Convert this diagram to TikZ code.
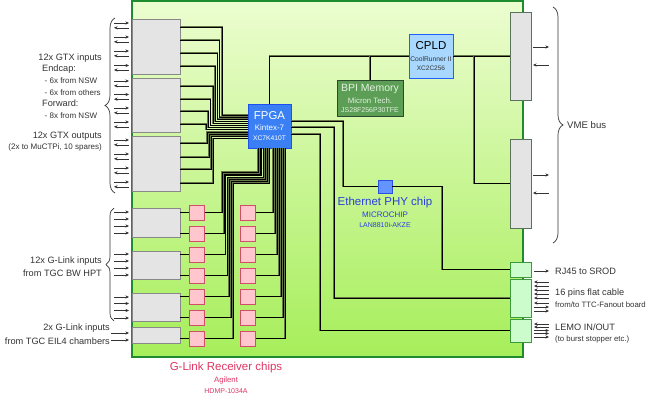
\documentclass[tikz,border=0pt]{standalone}
\usepackage{fontspec}
\setmainfont{Liberation Sans}
\usetikzlibrary{arrows.meta,calc,decorations.pathreplacing}
\definecolor{boardtop}{HTML}{ECFDD0}
\definecolor{boardbot}{HTML}{A6EE5A}
\definecolor{boardline}{HTML}{1E8C2E}
\definecolor{grayfill}{HTML}{E4E4E4}
\definecolor{grayline}{HTML}{888888}
\definecolor{vmeline}{HTML}{5A735A}
\definecolor{pinkfill}{HTML}{FFC6CE}
\definecolor{pinkline}{HTML}{D24E68}
\definecolor{fpgafill}{HTML}{3A80F4}
\definecolor{fpgaline}{HTML}{1E50F0}
\definecolor{cpldfill}{HTML}{A8D8FF}
\definecolor{cpldline}{HTML}{2060FF}
\definecolor{bpifill}{HTML}{5C9E56}
\definecolor{bpiline}{HTML}{2C4A2C}
\definecolor{bpitext}{HTML}{E2F2DE}
\definecolor{ethfill}{HTML}{6494FF}
\definecolor{ethline}{HTML}{2850E6}
\definecolor{ethtext}{HTML}{2A3EE0}
\definecolor{rxtext}{HTML}{DE3462}
\definecolor{connfill}{HTML}{CCFCCC}
\definecolor{connline}{HTML}{3C9A3C}
\definecolor{wireedge}{HTML}{66774A}
\definecolor{labeltext}{HTML}{333333}
\newcommand\fsz[1]{\fontsize{#1}{#1}\selectfont}
\begin{document}
\begin{tikzpicture}[x=1pt,y=-1pt,
  >={Stealth[length=3.6pt,width=3.2pt]},
  blk/.style={anchor=north west, inner sep=0, outer sep=0},
  gbox/.style={blk, draw=grayline, fill=grayfill, line width=1pt},
  vbox/.style={blk, draw=vmeline, fill=grayfill, line width=1pt},
  cbox/.style={blk, draw=connline, fill=connfill, line width=1pt},
  pinkbox/.style={draw=pinkline, fill=pinkfill, line width=0.9pt, minimum size=15pt, inner sep=0},
  wire/.style={draw=wireedge, line width=0.5pt, double=black, double distance=0.5pt},
  sig/.style={draw=labeltext, line width=0.6pt},
  txt/.style={inner sep=0, text=labeltext},
  bracestyle/.style={draw=labeltext, line width=0.7pt, decorate}
]
\useasboundingbox (0,0) rectangle (649,402);
% board
\node[blk, draw=boardline, line width=1.6pt, top color=boardtop, bottom color=boardbot,
      minimum width=391pt, minimum height=356pt] (board) at (132,1) {};
% GTX boxes
\node[gbox, minimum width=48pt, minimum height=55pt] (gtx1) at (132,19) {};
\node[gbox, minimum width=48pt, minimum height=54pt] (gtx2) at (132,78) {};
\node[gbox, minimum width=48pt, minimum height=55pt] (gtx3) at (132,136) {};
% G-Link boxes
\node[gbox, minimum width=48pt, minimum height=29pt] (gl1) at (132,208) {};
\node[gbox, minimum width=48pt, minimum height=28pt] (gl2) at (132,251) {};
\node[gbox, minimum width=48pt, minimum height=28pt] (gl3) at (132,293) {};
\node[gbox, minimum width=48pt, minimum height=16pt] (gl4) at (132,327) {};
% pink receivers
\foreach \yy [count=\k from 0] in {212.5,233.5,254.5,275.5,296.5,317.5,338.5} {
  \node[pinkbox] (pa\k) at (197,\yy) {};
  \node[pinkbox] (pb\k) at (248,\yy) {};
}
% FPGA, CPLD, BPI, Ethernet
\node[blk, draw=fpgaline, fill=fpgafill, line width=1pt, minimum width=43pt, minimum height=44pt] (fpga) at (248,104) {};
\node[blk, draw=cpldline, fill=cpldfill, line width=1pt, minimum width=44pt, minimum height=44pt] (cpld) at (409,34) {};
\node[blk, draw=bpiline, fill=bpifill, line width=1pt, minimum width=66pt, minimum height=36pt] (bpi) at (337,80) {};
\node[blk, draw=ethline, fill=ethfill, line width=0.9pt, minimum width=14pt, minimum height=13pt] (eth) at (378,180) {};
% right connectors
\node[vbox, minimum width=21pt, minimum height=88pt] (vme1) at (510,12) {};
\node[vbox, minimum width=21pt, minimum height=89pt] (vme2) at (510,139) {};
\node[cbox, minimum width=21pt, minimum height=15pt] (rj45) at (510,262) {};
\node[cbox, minimum width=21pt, minimum height=38pt] (pins) at (510,279) {};
\node[cbox, minimum width=21pt, minimum height=23pt] (lemo) at (510,319) {};
\coordinate (j1) at (474,56);
% GTX wires (downward group)
\foreach \y/\b [count=\i from 0] in {27/gtx1,40/gtx1,53/gtx1,66/gtx1,86/gtx2,99/gtx2,111/gtx2,124/gtx2} {
  \pgfmathsetmacro\xv{222-2.3*\i}
  \pgfmathsetmacro\yb{115+2.1*\i}
  \draw[wire] (\b.east |- 0,\y) -| (\xv,\yb) -- (fpga.west |- 0,\yb);
}
% GTX wires (upward group)
\foreach \y [count=\i from 0] in {143,157,169,183} {
  \pgfmathsetmacro\xv{207+2*\i}
  \pgfmathsetmacro\yb{132+2.1*\i}
  \draw[wire] (gtx3.east |- 0,\y) -| (\xv,\yb) -- (fpga.west |- 0,\yb);
}
% G-Link to receivers
\foreach \g/\k in {gl1/0,gl1/1,gl2/2,gl2/3,gl3/4,gl3/5,gl4/6}
  \draw[wire] (pa\k.west -| \g.east) -- (pa\k.west);
% receivers to FPGA
\foreach \k in {0,...,6} {
  \pgfmathsetmacro\xa{222+1.8*\k}
  \pgfmathsetmacro\yb{172+1.8*\k}
  \pgfmathsetmacro\xf{258+1.8*\k}
  \pgfmathsetmacro\xr{273+2*\k}
  \draw[wire] (pa\k.east) -| (\xa,\yb) -| (fpga.south -| \xf,0);
  \draw[wire] (pb\k.east) -| (fpga.south -| \xr,0);
}
% FPGA top to CPLD, BPI, VME
\draw[wire] (fpga.north) |- (cpld.west);
\draw[wire] (bpi.north) -- (bpi.north |- cpld.west);
\draw[wire] (cpld.east) -- (cpld.east -| vme1.west);
\draw[wire] (j1) |- (vme2.west);
% FPGA right side
\draw[wire] (fpga.east |- 0,121) -| (eth.west -| 343,0) -- (eth.west);
\draw[wire] (eth.east) -| (rj45.west -| 442,0) -- (rj45.west);
\draw[wire] (fpga.east |- 0,127) -| (pins.west -| 334,0) -- (pins.west);
\draw[wire] (fpga.east |- 0,134) -| (lemo.west -| 320,0) -- (lemo.west);
% GTX arrows
\foreach \b/\ya/\yb in {gtx1/23/27.8,gtx1/37/41.8,gtx1/51/55.8,gtx1/65.5/70,
                        gtx2/81/85.8,gtx2/94.5/99.2,gtx2/108/112.8,gtx2/122/126.8,
                        gtx3/140/144.8,gtx3/154/158.8,gtx3/168/172.8,gtx3/182/186.8} {
  \draw[sig,->] ($(\b.west |- 0,\ya)+(-18,0)$) -- ($(\b.west |- 0,\ya)+(-3,0)$);
  \draw[sig,<-] ($(\b.west |- 0,\yb)+(-18,0)$) -- ($(\b.west |- 0,\yb)+(-3,0)$);
}
% G-Link arrows
\foreach \b/\ya in {gl1/212,gl1/219,gl1/226,gl1/233,gl2/254,gl2/261,gl2/268,gl2/275,
                    gl3/297,gl3/303.5,gl3/310.5,gl3/318}
  \draw[sig,->] ($(\b.west |- 0,\ya)+(-18,0)$) -- ($(\b.west |- 0,\ya)+(-3,0)$);
\foreach \ya in {333,340}
  \draw[sig,->] ($(gl4.west |- 0,\ya)+(-21,0)$) -- ($(gl4.west |- 0,\ya)+(-3,0)$);
% VME arrows
\draw[sig,->] ($(vme1.east |- 0,47)+(2,0)$) -- ($(vme1.east |- 0,47)+(18,0)$);
\draw[sig,<-] ($(vme1.east |- 0,65)+(2,0)$) -- ($(vme1.east |- 0,65)+(18,0)$);
\draw[sig,->] ($(vme2.east |- 0,175)+(2,0)$) -- ($(vme2.east |- 0,175)+(18,0)$);
\draw[sig,<-] ($(vme2.east |- 0,193)+(2,0)$) -- ($(vme2.east |- 0,193)+(18,0)$);
% connector arrows
\draw[sig,->] ($(rj45.east |- 0,271)+(3,0)$) -- ($(rj45.east |- 0,271)+(18,0)$);
\foreach \ya in {282,286,290,294,298,303}
  \draw[sig,<-] ($(pins.east |- 0,\ya)+(3,0)$) -- ($(pins.east |- 0,\ya)+(18,0)$);
\foreach \ya in {307,311}
  \draw[sig,->] ($(pins.east |- 0,\ya)+(3,0)$) -- ($(pins.east |- 0,\ya)+(18,0)$);
\foreach \ya in {324,327}
  \draw[sig,<-] ($(lemo.east |- 0,\ya)+(3,0)$) -- ($(lemo.east |- 0,\ya)+(18,0)$);
\foreach \ya in {330.5,333.5,337}
  \draw[sig,->] ($(lemo.east |- 0,\ya)+(3,0)$) -- ($(lemo.east |- 0,\ya)+(18,0)$);
% braces
\draw[bracestyle, decoration={brace, amplitude=10pt}] (115,193) -- (115,18);
\draw[bracestyle, decoration={brace, amplitude=8pt}] (114,321) -- (114,208);
\draw[bracestyle, decoration={brace, amplitude=10pt}] (553,7) -- (553,243);
% box texts
\node[inner sep=0, text=white, font=\fsz{11.4}] at (fpga.center |- 0,116) {FPGA};
\node[inner sep=0, text=white, font=\fsz{8}] at (fpga.center |- 0,128) {Kintex-7};
\node[inner sep=0, text=white, font=\fsz{6.7}] at (fpga.center |- 0,138.5) {XC7K410T};
\node[inner sep=0, text=black, font=\fsz{11.5}] at (cpld.center |- 0,46) {CPLD};
\node[inner sep=0, text=black!80, font=\fsz{6.7}] at (cpld.center |- 0,59) {CoolRunner II};
\node[inner sep=0, text=black!80, font=\fsz{6.5}] at (cpld.center |- 0,68) {XC2C256};
\node[inner sep=0, text=bpitext, font=\fsz{10.5}] at (bpi.center |- 0,89) {BPI Memory};
\node[inner sep=0, text=bpitext, font=\fsz{7.8}] at (bpi.center |- 0,100.5) {Micron Tech.};
\node[inner sep=0, text=bpitext, font=\fsz{7}] at (bpi.center |- 0,110.5) {JS28F256P30TFE};
\node[inner sep=0, text=ethtext, font=\fsz{11.5}] at (eth.center |- 0,203) {Ethernet PHY chip};
\node[inner sep=0, text=ethtext, font=\fsz{8}] at (eth.center |- 0,215) {MICROCHIP};
\node[inner sep=0, text=ethtext, font=\fsz{7}] at (eth.center |- 0,224.5) {LAN8810i-AKZE};
\node[inner sep=0, text=rxtext, font=\fsz{11.5}] at (226,368) {G-Link Receiver chips};
\node[inner sep=0, text=rxtext, font=\fsz{7.8}] at (226,380) {Agilent};
\node[inner sep=0, text=rxtext, font=\fsz{7}] at (226,391) {HDMP-1034A};
% left labels
\node[txt, anchor=east, font=\fsz{9.2}] at (102,58) {12x GTX inputs};
\node[txt, anchor=west, font=\fsz{9.2}] at (42,69.5) {Endcap:};
\node[txt, anchor=west, font=\fsz{8}] at (44.5,81) {- 6x from NSW};
\node[txt, anchor=west, font=\fsz{8}] at (44.5,92.5) {- 6x from others};
\node[txt, anchor=west, font=\fsz{9.2}] at (42,103.5) {Forward:};
\node[txt, anchor=west, font=\fsz{8}] at (44.5,116) {- 8x from NSW};
\node[txt, anchor=east, font=\fsz{9.2}] at (102,136) {12x GTX outputs};
\node[txt, anchor=east, font=\fsz{8}] at (102,147.5) {(2x to MuCTPi, 10 spares)};
\node[txt, anchor=east, font=\fsz{9.2}] at (102,261) {12x G-Link inputs};
\node[txt, anchor=east, font=\fsz{9.2}] at (102,273) {from TGC BW HPT};
\node[txt, anchor=east, font=\fsz{9.2}] at (110,328.5) {2x G-Link inputs};
\node[txt, anchor=east, font=\fsz{9.2}] at (110,341) {from TGC EIL4 chambers};
% right labels
\node[txt, anchor=west, font=\fsz{9.6}] at (567,125) {VME bus};
\node[txt, anchor=west, font=\fsz{9.2}] at (555,271) {RJ45 to SROD};
\node[txt, anchor=west, font=\fsz{9.2}] at (555,293) {16 pins flat cable};
\node[txt, anchor=west, font=\fsz{7.8}] at (555,304.5) {from/to TTC-Fanout board};
\node[txt, anchor=west, font=\fsz{9.2}] at (555,327) {LEMO IN/OUT};
\node[txt, anchor=west, font=\fsz{7.8}] at (555,339) {(to burst stopper etc.)};
\end{tikzpicture}
\end{document}
